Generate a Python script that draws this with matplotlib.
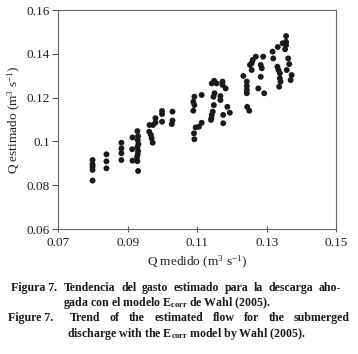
import matplotlib
matplotlib.use("Agg")
import matplotlib.pyplot as plt

plt.rcParams['font.family'] = ['Liberation Serif', 'DejaVu Serif']
plt.rcParams['mathtext.fontset'] = 'custom'
plt.rcParams['mathtext.rm'] = 'Liberation Serif'
plt.rcParams['mathtext.it'] = 'Liberation Serif:italic'
plt.rcParams['mathtext.bf'] = 'Liberation Serif:bold'

# valores (m3/s)
q_medido = [
    0.0798, 0.0798, 0.0798, 0.0798, 0.0798,
    0.0838, 0.0838, 0.0838,
    0.0881, 0.0881, 0.0881, 0.0881,
    0.0913, 0.0912, 0.0913,
    0.0927, 0.0929, 0.0928, 0.0930, 0.0927, 0.0929, 0.0928, 0.0926, 0.0927, 0.0929,
    0.0962, 0.0972, 0.0961, 0.0968, 0.0971, 0.0966,
    0.0979, 0.0979,
    0.0998, 0.0998, 0.1028, 0.0998, 0.1028, 0.1026,
    0.1091, 0.1088, 0.1091, 0.1088, 0.1112, 0.1095, 0.1112, 0.1090, 0.1091, 0.1104,
    0.1148, 0.1141, 0.1155, 0.1172, 0.1172, 0.1181,
    0.1149, 0.1146, 0.1166, 0.1166,
    0.1147, 0.1144, 0.1141, 0.1140, 0.1139,
    0.1186, 0.1193, 0.1174, 0.1174,
    0.1232, 0.1242, 0.1242, 0.1242, 0.1242, 0.1243, 0.1249,
    0.1259, 0.1256, 0.1268, 0.1251, 0.1256, 0.1275, 0.1292,
    0.1289, 0.1282, 0.1285, 0.1282,
    0.1316, 0.1318, 0.1331, 0.1345, 0.1355, 0.1355, 0.1355, 0.1352,
    0.1361, 0.1364, 0.1357, 0.1330, 0.1333, 0.1337, 0.1337, 0.1339, 0.1335,
    0.1371, 0.1368,
]
q_estimado = [
    0.0915, 0.0895, 0.0885, 0.0870, 0.0821,
    0.0941, 0.0909, 0.0877,
    0.0994, 0.0968, 0.0946, 0.0915,
    0.1018, 0.0964, 0.0912,
    0.1047, 0.1024, 0.1006, 0.0988, 0.0974, 0.0956, 0.0942, 0.0929, 0.0910, 0.0865,
    0.1075, 0.1075, 0.1044, 0.1014, 0.0994, 0.1030,
    0.1106, 0.1086,
    0.1139, 0.1125, 0.1136, 0.1090, 0.1095, 0.1079,
    0.1204, 0.1181, 0.1166, 0.1140, 0.1212, 0.1064, 0.1085, 0.1037, 0.1010, 0.1067,
    0.1277, 0.1265, 0.1265, 0.1273, 0.1258, 0.1242,
    0.1220, 0.1204, 0.1207, 0.1189,
    0.1166, 0.1136, 0.1121, 0.1106, 0.1098,
    0.1158, 0.1131, 0.1121, 0.1083,
    0.1299, 0.1273, 0.1253, 0.1235, 0.1220, 0.1158, 0.1140,
    0.1372, 0.1357, 0.1387, 0.1349, 0.1326, 0.1242, 0.1220,
    0.1387, 0.1349, 0.1334, 0.1295,
    0.1410, 0.1379, 0.1431, 0.1448, 0.1481, 0.1455, 0.1440, 0.1421,
    0.1379, 0.1353, 0.1326, 0.1341, 0.1326, 0.1311, 0.1288, 0.1273, 0.1250,
    0.1303, 0.1280,
]

x_ticks = [0.07, 0.09, 0.11, 0.13, 0.15]
y_ticks = [0.06, 0.08, 0.10, 0.12, 0.14, 0.16]
y_ticklabels = ['0.06', '0.08', '0.1', '0.12', '0.14', '0.16']

fig = plt.figure(figsize=(3.58, 3.54), dpi=100)
ax = fig.add_axes([0.1634, 0.3531, 0.7765, 0.6186])

ax.scatter(q_medido, q_estimado, s=18, color='#1a1a1a', edgecolors='none', zorder=3)

ax.set_xlim(0.07, 0.15)
ax.set_ylim(0.06, 0.16)
ax.set_xticks(x_ticks)
ax.set_xticklabels([f'{v:.2f}' for v in x_ticks])
ax.set_yticks(y_ticks)
ax.set_yticklabels(y_ticklabels)
ax.tick_params(axis='x', direction='inout', length=5, width=0.8, colors='#555555',
               labelcolor='#222222', labelsize=9.5, pad=3)
ax.tick_params(axis='y', direction='out', length=4, width=0.8, colors='#555555',
               labelcolor='#222222', labelsize=9.5, pad=2)
for sp in ax.spines.values():
    sp.set_color('#666666')
    sp.set_linewidth(0.8)

ax.set_xlabel(r'Q medido (m$^3$ s$^{-1}$)', fontsize=9.5, color='#222222', labelpad=4)
ax.set_ylabel(r'Q estimado (m$^3$ s$^{-1}$)', fontsize=9.5, color='#222222', labelpad=3)

# --- pie de figura ---
W, H = 358.0, 354.0
renderer = fig.canvas.get_renderer()
cap = dict(fontsize=8.6, fontweight='bold', color='#1a1a1a', va='baseline')


def line_just(words, x0, x1, y):
    # coloca las palabras repartiendo el espacio entre x0 y x1
    texts = [fig.text(0, 1 - y / H, w, **cap) for w in words]
    widths = [t.get_window_extent(renderer).width for t in texts]
    gap = (x1 - x0 - sum(widths)) / (len(words) - 1)
    x = x0
    for t, w in zip(texts, widths):
        t.set_x(x / W)
        x += w + gap


def line_plain(s, x0, y):
    fig.text(x0 / W, 1 - y / H, s, **cap)


line_plain('Figura 7.', 11, 291)
line_just(['Tendencia', 'del', 'gasto', 'estimado', 'para', 'la', 'descarga', 'aho-'],
          64, 341, 291)
line_plain(r'gada con el modelo E$_{\mathbf{corr}}$ de Wahl (2005).', 63, 306)
line_plain('Figure 7.', 8, 321)
line_just(['Trend', 'of', 'the', 'estimated', 'flow', 'for', 'the', 'submerged'],
          70, 350, 321)
line_plain(r'discharge with the E$_{\mathbf{corr}}$ model by Wahl (2005).', 67, 337)

fig.savefig('out.png', dpi=100)
